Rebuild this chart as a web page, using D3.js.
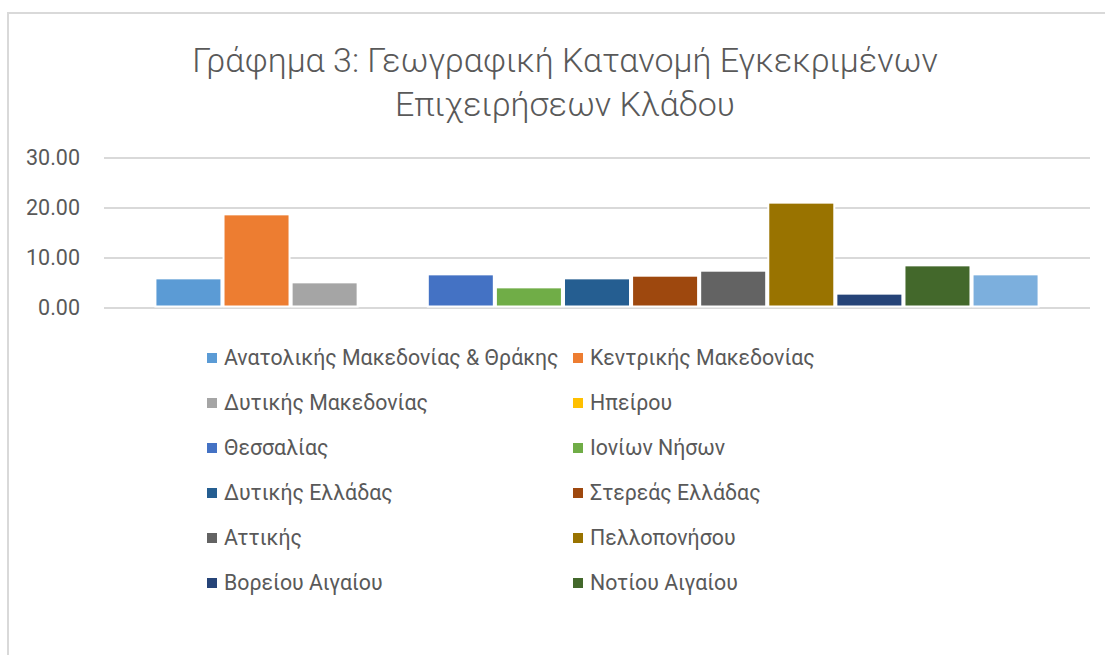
<!DOCTYPE html>
<html>
<head>
<meta charset="utf-8">
<script src="https://cdn.jsdelivr.net/npm/d3@7"></script>
<style>
  body { margin: 0; background: #fff; }
  svg { display: block; font-family: Roboto, "Open Sans", sans-serif; }
</style>
</head>
<body>
<svg width="1105" height="655"></svg>
<script>
const regions = [
  "Ανατολικής Μακεδονίας & Θράκης", "Κεντρικής Μακεδονίας", "Δυτικής Μακεδονίας",
  "Ηπείρου", "Θεσσαλίας", "Ιονίων Νήσων", "Δυτικής Ελλάδας", "Στερεάς Ελλάδας",
  "Αττικής", "Πελλοπονήσου", "Βορείου Αιγαίου", "Νοτίου Αιγαίου", "Κρήτης"
];
const values = [5.63, 18.43, 4.83, 0, 6.43, 3.83, 5.63, 6.16, 7.16, 20.77, 2.57, 8.23, 6.43];
const colors = [
  "#5B9BD5", "#ED7D31", "#A5A5A5", "#FFC000", "#4472C4", "#70AD47", "#255E91",
  "#9E480E", "#636363", "#997300", "#264478", "#43682B", "#7CAFDD"
];
const yTicks = [0, 10, 20, 30];
const titleLines = ["Γράφημα 3: Γεωγραφική Κατανομή Εγκεκριμένων", "Επιχειρήσεων Κλάδου"];

const data = regions.map((name, i) => ({ name, value: values[i], color: colors[i] }));

const svg = d3.select("svg");

// chart border (right and bottom edges fall outside the picture)
svg.append("rect")
  .attr("x", 8).attr("y", 13)
  .attr("width", 1200).attr("height", 800)
  .attr("fill", "#fff")
  .attr("stroke", "#d9d9d9")
  .attr("stroke-width", 2);

// title
svg.append("text")
  .attr("x", 565)
  .attr("text-anchor", "middle")
  .attr("fill", "#595959")
  .attr("font-size", 34)
  .attr("font-weight", 300)
  .selectAll("tspan")
  .data(titleLines)
  .enter()
  .append("tspan")
  .attr("x", 565)
  .attr("y", (d, i) => 72 + i * 44)
  .text((d) => d);

// plot area
const plot = { left: 104, right: 1090, top: 157.5, bottom: 307.5 };
const graph = svg.append("g");

const y = d3.scaleLinear().domain([0, 30]).range([plot.bottom, plot.top]);
const x = d3.scaleBand()
  .domain(regions)
  .range([plot.left, plot.right])
  .paddingInner(0.06)
  .paddingOuter(0.77);

const yAxis = d3.axisLeft(y)
  .tickValues(yTicks)
  .tickFormat(d3.format(".2f"))
  .tickSize(-(plot.right - plot.left))
  .tickPadding(24);

const yAxisGroup = graph.append("g")
  .attr("transform", `translate(${plot.left},0)`)
  .call(yAxis);
yAxisGroup.select(".domain").remove();
yAxisGroup.selectAll("line").attr("stroke", "#d9d9d9").attr("stroke-width", 2);
yAxisGroup.selectAll("text")
  .attr("fill", "#595959")
  .attr("font-size", 21.5)
  .style("font-family", "Roboto, sans-serif");

// bars with a white edge that hides gridlines
graph.selectAll("rect.bar")
  .data(data.filter((d) => d.value > 0))
  .enter()
  .append("rect")
  .attr("class", "bar")
  .attr("x", (d) => x(d.name))
  .attr("y", (d) => y(d.value))
  .attr("width", x.bandwidth())
  .attr("height", (d) => y(0) - y(d.value) - 2)
  .attr("fill", (d) => d.color)
  .attr("stroke", "#fff")
  .attr("stroke-width", 4)
  .attr("paint-order", "stroke");

// legend (two columns, last entry clipped off in original)
const legendData = data.slice(0, 12);
const legend = svg.append("g");
const items = legend.selectAll("g")
  .data(legendData)
  .enter()
  .append("g")
  .attr("transform", (d, i) => `translate(${i % 2 === 0 ? 207 : 573},${358 + Math.floor(i / 2) * 45})`);

items.append("rect")
  .attr("x", 0).attr("y", -5)
  .attr("width", 10).attr("height", 10)
  .attr("fill", (d) => d.color);

items.append("text")
  .attr("x", 17)
  .attr("dy", "0.35em")
  .attr("fill", "#595959")
  .attr("font-size", 21.3)
  .text((d) => d.name);
</script>
</body>
</html>
